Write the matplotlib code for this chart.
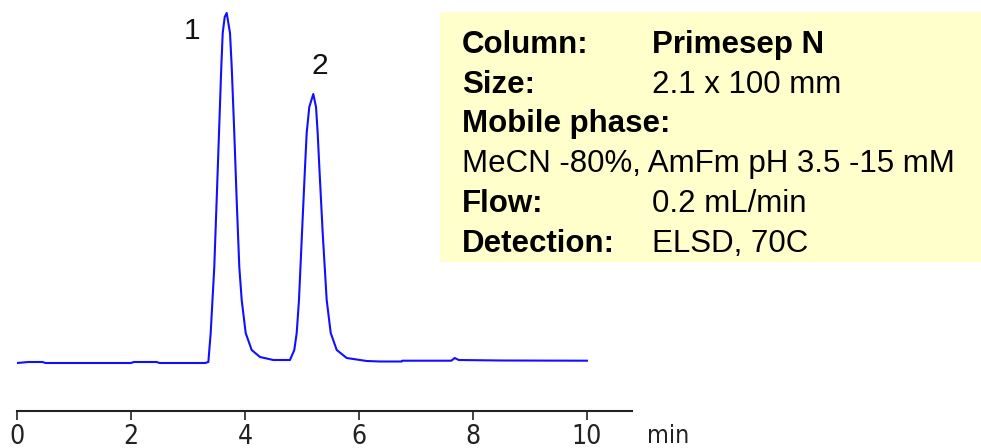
import matplotlib
matplotlib.use("Agg")
import matplotlib.pyplot as plt
from matplotlib.patches import Rectangle

# chromatogram trace (time in min, detector signal)
time_min = [0.0, 0.2, 0.45, 0.5, 2.0, 2.05, 2.45, 2.5, 3.3,
            3.357, 3.398, 3.461, 3.503, 3.544, 3.584, 3.609, 3.644, 3.679,
            3.737, 3.767, 3.812, 3.854, 3.900, 3.942, 4.012, 4.117, 4.263, 4.496,
            4.789, 4.865, 4.907, 4.947, 5.000, 5.053, 5.082, 5.128, 5.198,
            5.246, 5.275, 5.304, 5.363, 5.433, 5.504, 5.609, 5.784, 6.135,
            6.37, 6.75, 6.76, 7.62, 7.68, 7.75, 8.5, 10.0]
signal = [-1, 0, 0, -1, -1, 0, 0, -1, -1,
          0, 29, 95, 162, 229, 295, 329, 345, 349,
          329, 295, 229, 162, 95, 62, 29, 12, 5, 2,
          2, 12, 29, 62, 129, 195, 229, 255, 268,
          255, 229, 195, 129, 62, 29, 12, 4, 1,
          0.5, 0.5, 1.3, 1.3, 4, 2, 1.5, 1.3]

peak_labels = ["1", "2"]
peak_label_t = [3.07, 5.32]
peak_label_y = [331, 296]

xticks = [0, 2, 4, 6, 8, 10]

info_keys = ["Column:", "Size:", "Mobile phase:", "", "Flow:", "Detection:"]
info_vals = ["Primesep N", "2.1 x 100 mm", "", "", "0.2 mL/min", "ELSD, 70C"]
mobile_phase = "MeCN -80%, AmFm pH 3.5 -15 mM"

W, H = 981, 448
fig = plt.figure(figsize=(W / 100, H / 100), dpi=100)

# axes: x=0 at 17px, 57 px per min; axis line at 411px from top
x0, px_per_min, axis_y = 17, 57.0, 411
ax = fig.add_axes([x0 / W, (H - axis_y) / H, (632 - x0) / W, axis_y / H])
ax.set_xlim(0, (632 - x0) / px_per_min)
ax.set_ylim(-49, 362)

ax.plot(time_min, signal, color="#1010ff", lw=1.5, solid_joinstyle="round")

for lab, t, y in zip(peak_labels, peak_label_t, peak_label_y):
    ax.text(t, y, lab, ha="center", va="center", fontsize=21.5,
            family=["Liberation Sans", "DejaVu Sans"], color="#111111")

narrow = ["Liberation Sans Narrow", "DejaVu Sans"]
for s in ["top", "left", "right"]:
    ax.spines[s].set_visible(False)
ax.spines["bottom"].set_linewidth(1.5)
ax.spines["bottom"].set_color("#222222")
ax.set_yticks([])
ax.set_xticks(xticks)
ax.set_xticklabels([str(v) for v in xticks])
ax.tick_params(axis="x", direction="out", length=6.5, width=1.2, pad=2.5,
               labelsize=19, colors="#222222")
for lbl in ax.get_xticklabels():
    lbl.set_family(narrow)
    lbl.set_fontstretch("condensed")

fig.text(647 / W, 1 - 443 / H, "min", ha="left", va="baseline", fontsize=18,
         family=narrow, stretch="condensed", color="#222222")

# info box
fig.patches.append(Rectangle((440 / W, 1 - 262 / H), (W - 440) / W, 250 / H,
                             transform=fig.transFigure, facecolor="#ffffcc",
                             edgecolor="none", zorder=0))
rows_y = [53, 93, 132, 172, 212, 252]
font = ["Liberation Sans", "DejaVu Sans"]
fs = 22.5
for i, (k, v) in enumerate(zip(info_keys, info_vals)):
    yy = 1 - rows_y[i] / H
    if k:
        fig.text(462 / W, yy, k, fontsize=fs, fontweight="bold",
                 family=font, va="baseline", color="black")
    if v:
        fig.text(652 / W, yy, v, fontsize=fs,
                 fontweight="bold" if i == 0 else "normal",
                 family=font, va="baseline", color="black")
fig.text(462 / W, 1 - rows_y[3] / H, mobile_phase, fontsize=fs,
         family=font, va="baseline", color="black")

fig.savefig("out.png", dpi=100)
